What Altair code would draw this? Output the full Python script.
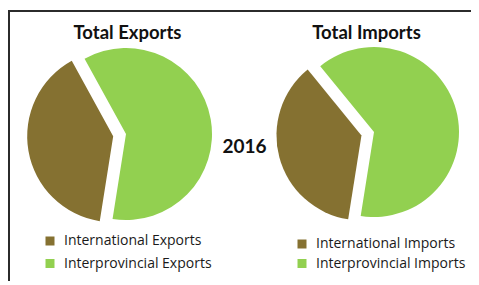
import math
import altair as alt
import pandas as pd

# ---- data ----
categories = ["International", "Interprovincial"]
export_values = [39.5, 60.5]
import_values = [36.6, 63.4]
pie_titles = ["Total Exports", "Total Imports"]
pie_suffix = ["Exports", "Imports"]
year_label = "2016"

BROWN = "#857131"
GREEN = "#92D050"
FONT = "Lato"
LEG_FONT = "Open Sans"
W, H = 463, 273
START = math.radians(189)
EXPLODE = 13


def make_df(values, suffix):
    return pd.DataFrame({
        "cat": categories,
        "order": list(range(len(categories))),
        "value": values,
        "label": [f"{c} {suffix}" for c in categories],
    })


def pie(df, cx, cy, r, legend_x, legend_y, row_pad):
    labels = list(df["label"])
    return (
        alt.Chart(df)
        .transform_joinaggregate(total="sum(value)")
        .transform_window(cum="sum(value)", sort=[{"field": "order"}], frame=[None, 0])
        .transform_calculate(
            f0="(datum.cum - datum.value) / datum.total",
            f1="datum.cum / datum.total",
        )
        .transform_calculate(
            mid=f"{START} + (datum.f0 + datum.f1) * PI",
            ex=f"datum.cat == '{categories[0]}' ? {EXPLODE} : 0",
        )
        .transform_calculate(
            px=f"{cx} + datum.ex * sin(datum.mid)",
            py=f"{cy} - datum.ex * cos(datum.mid)",
        )
        .mark_arc(outerRadius=r, stroke=None)
        .encode(
            theta=alt.Theta("f0:Q", scale=alt.Scale(domain=[0, 1], range=[START, START + 2 * math.pi])),
            theta2="f1:Q",
            x=alt.X("px:Q", scale=None),
            y=alt.Y("py:Q", scale=None),
            color=alt.Color(
                "label:N",
                scale=alt.Scale(domain=labels, range=[BROWN, GREEN]),
                sort=labels,
                legend=alt.Legend(
                    title=None,
                    orient="none",
                    legendX=legend_x,
                    legendY=legend_y,
                    symbolType="square",
                    symbolSize=81,
                    symbolStrokeWidth=0,
                    labelFont=LEG_FONT,
                    labelFontSize=14,
                    labelColor="#1a1a1a",
                    labelOffset=7,
                    rowPadding=row_pad,
                    padding=0,
                ),
            ),
        )
    )


exp_df = make_df(export_values, pie_suffix[0])
imp_df = make_df(import_values, pie_suffix[1])

one = alt.Data(values=[{}])

frame_top = alt.Chart(one).mark_rule(color="#2b2b2b", strokeWidth=2).encode(
    x=alt.value(0), x2=alt.value(W), y=alt.value(3)
)
frame_left = alt.Chart(one).mark_rule(color="#2b2b2b", strokeWidth=2).encode(
    x=alt.value(1), y=alt.value(2), y2=alt.value(H)
)


def text_layer(t, x, y, size):
    return alt.Chart(pd.DataFrame({"t": [t]})).mark_text(
        font=FONT, fontSize=size, fontWeight="bold", color="#111111", align="center", baseline="middle"
    ).encode(text="t:N", x=alt.value(x), y=alt.value(y))


title_exp = text_layer(pie_titles[0], 119.5, 25, 18.5)
title_imp = text_layer(pie_titles[1], 358.5, 25, 18.5)
year = text_layer(year_label, 236.5, 138.5, 19)

pie_exp = pie(exp_df, 118, 126, 86, 35, 226, 8.5)
pie_imp = pie(imp_df, 366, 124, 85, 287, 229, 5.5)

chart = (
    alt.layer(frame_top, frame_left, pie_exp, pie_imp, title_exp, title_imp, year)
    .resolve_scale(color="independent", theta="independent")
    .properties(width=W, height=H, padding=0, autosize=alt.AutoSizeParams(type="none"))
    .configure_view(stroke=None)
)

chart.save("out.html", embed_options={"renderer": "svg", "actions": False})
